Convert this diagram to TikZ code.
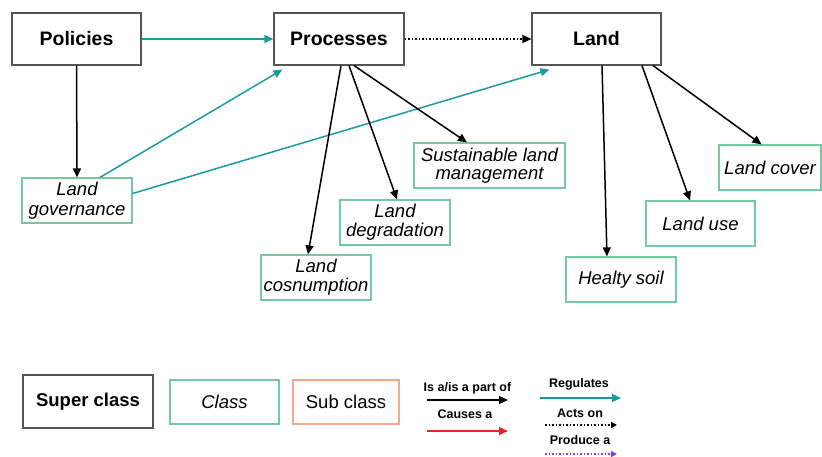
\documentclass[tikz,border=0pt]{standalone}
\usepackage{fontspec}
\setmainfont{Liberation Sans}
\usetikzlibrary{arrows.meta}
\definecolor{teal1}{HTML}{1A9C9C}
\definecolor{green1}{HTML}{72C9A2}
\definecolor{orange1}{HTML}{F2AA8A}
\definecolor{red1}{HTML}{E8262A}
\definecolor{purple1}{HTML}{7B3FF0}
\definecolor{gray1}{HTML}{555555}
\tikzset{
  superbox/.style={draw=gray1, line width=1.2pt, inner sep=0pt, font=\fontsize{19.5}{21}\selectfont\bfseries},
  classbox/.style={draw=green1, line width=1.2pt, inner sep=0pt, align=center, font=\fontsize{18.5}{19}\selectfont\itshape},
  subbox/.style={draw=orange1, line width=1.2pt, inner sep=0pt, align=center, font=\fontsize{18.5}{19}\selectfont},
  tip/.style={-{Triangle[length=9pt,width=8pt]}},
  isa/.style={tip, draw=black, line width=1.5pt},
  regul/.style={tip, draw=teal1, color=teal1, line width=1.5pt},
  actson/.style={tip, draw=black, line width=1.5pt, dotted},
  legtext/.style={font=\fontsize{12.5}{14}\selectfont\bfseries, inner sep=0pt}
}
\begin{document}
\begin{tikzpicture}[x=1pt,y=-1pt]
\useasboundingbox (0,0) rectangle (822,457);
% super classes
\node[superbox, minimum width=129pt, minimum height=52pt] (pol) at (76.5,39) {Policies};
\node[superbox, minimum width=130pt, minimum height=52pt] (proc) at (339,39) {Processes};
\node[superbox, minimum width=129pt, minimum height=52pt] (land) at (596.5,39) {Land};
% classes
\node[classbox, minimum width=110pt, minimum height=45pt] (gov) at (77,200.5) {Land\\[1pt]governance};
\node[classbox, minimum width=151pt, minimum height=45pt] (slm) at (489.5,165.5) {Sustainable land\\[-1pt]management};
\node[classbox, minimum width=110pt, minimum height=45pt] (deg) at (395,222.5) {Land\\degradation};
\node[classbox, minimum width=110pt, minimum height=45pt] (cons) at (316,277.5) {Land\\cosnumption};
\node[classbox, minimum width=110pt, minimum height=45pt] (soil) at (621,279.5) {Healty soil};
\node[classbox, minimum width=109pt, minimum height=45pt] (use) at (700.5,223.5) {Land use};
\node[classbox, minimum width=102pt, minimum height=45pt] (cover) at (770,167.5) {Land cover};
% connectors
\draw[regul] (pol.east) -- (proc.west);
\draw[actson] (proc.east) -- (land.west);
\draw[isa] (pol.south) -- (gov.north);
\draw[regul] ([xshift=23pt]gov.north) -- ([xshift=9pt,yshift=-4pt]proc.south west);
\draw[regul] ([yshift=7pt]gov.east) -- ([xshift=18pt,yshift=-4pt]land.south west);
\draw[isa] ([xshift=2pt]proc.south) -- ([xshift=-8pt]cons.north);
\draw[isa] ([xshift=10pt]proc.south) -- ([xshift=2pt]deg.north);
\draw[isa] ([xshift=15pt]proc.south) -- ([xshift=-22.5pt]slm.north);
\draw[isa] ([xshift=5.5pt]land.south) -- ([xshift=-14pt]soil.north);
\draw[isa] ([xshift=45.5pt]land.south) -- ([xshift=-10.5pt]use.north);
\draw[isa] ([xshift=56.5pt]land.south) -- ([xshift=-8.5pt]cover.north);
% legend
\node[superbox, font=\fontsize{18.5}{20}\selectfont\bfseries, minimum width=130pt, minimum height=53pt] (lsup) at (88,401.5) {Super class};
\node[classbox, minimum width=109pt, minimum height=44pt] (lcls) at (224.5,402) {Class};
\node[subbox, minimum width=106pt, minimum height=44pt] (lsub) at (346,402) {Sub class};
\node[legtext] (tisa) at (467.5,388) {Is a/is a part of};
\coordinate (a1) at (427,400); \coordinate (a2) at (508,400);
\draw[isa] (a1) -- (a2);
\node[legtext] (tcau) at (465,414) {Causes a};
\coordinate (b1) at (427,431); \coordinate (b2) at (508,431);
\draw[tip, draw=red1, color=red1, line width=1.5pt] (b1) -- (b2);
\node[legtext] (treg) at (579,384) {Regulates};
\coordinate (c1) at (540,398); \coordinate (c2) at (621,398);
\draw[regul] (c1) -- (c2);
\node[legtext] (tact) at (580,413) {Acts on};
\coordinate (d1) at (545,425); \coordinate (d2) at (617,425);
\draw[actson, -{Triangle[length=6pt,width=6pt]}] (d1) -- (d2);
\node[legtext] (tpro) at (580,440) {Produce a};
\coordinate (e1) at (545,454); \coordinate (e2) at (617,454);
\draw[dotted, line width=1.5pt, draw=purple1, color=purple1, -{Triangle[length=6pt,width=6pt]}] (e1) -- (e2);
\end{tikzpicture}
\end{document}
